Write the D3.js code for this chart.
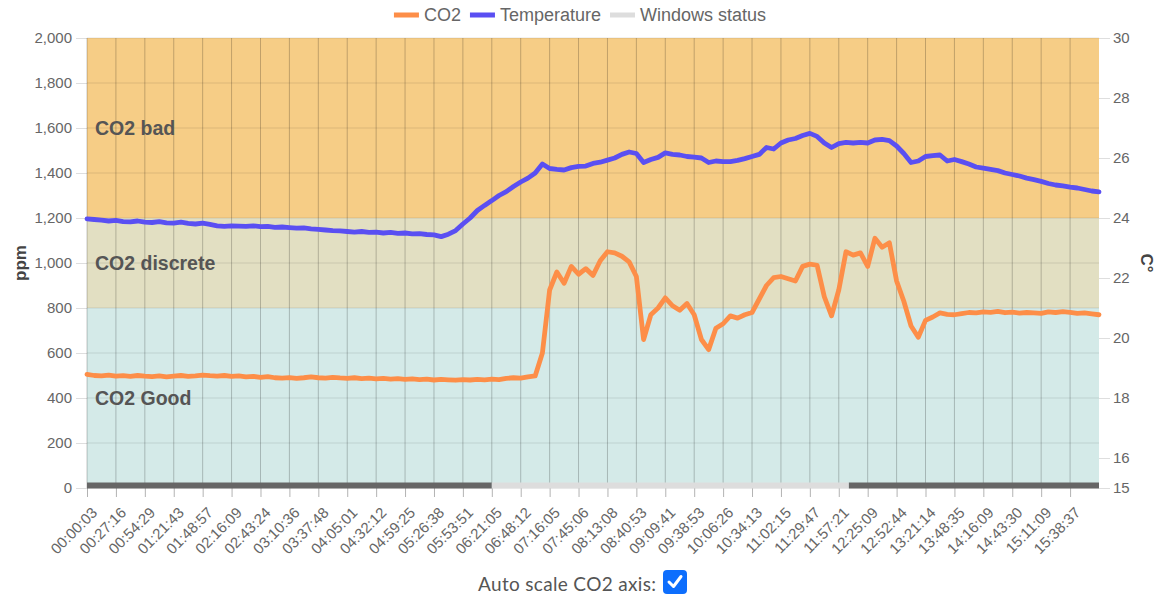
<!DOCTYPE html>
<html>
<head>
<meta charset="utf-8">
<script src="https://d3js.org/d3.v7.min.js"></script>
<style>
  body { margin: 0; background: #fff; }
  svg text { font-family: "Liberation Sans", Arial, sans-serif; }
</style>
</head>
<body>
<div id="chart"></div>
<script>

//////////
// DATA //
//////////

// one label every 4th sample
var timeLabels = ["00:00:03","00:27:16","00:54:29","01:21:43","01:48:57","02:16:09","02:43:24",
  "03:10:36","03:37:48","04:05:01","04:32:12","04:59:25","05:26:38","05:53:51","06:21:05",
  "06:48:12","07:16:05","07:45:06","08:13:08","08:40:53","09:09:41","09:38:53","10:06:26",
  "10:34:13","11:02:15","11:29:47","11:57:21","12:25:09","12:52:44","13:21:14","13:48:35",
  "14:16:09","14:43:30","15:11:09","15:38:37"];

// CO2 in ppm, one value per sample
var co2 = [505,500,498,502,497,499,496,500,497,495,498,494,497,500,496,498,502,499,497,500,
  496,498,494,496,492,495,490,488,491,487,490,494,490,488,492,489,487,490,486,488,
  485,487,484,486,483,485,482,484,480,483,481,479,482,480,483,481,484,482,487,490,
  488,494,498,600,880,960,910,985,950,975,945,1010,1050,1045,1030,1005,940,660,770,800,
  845,810,790,820,770,660,615,710,730,765,755,770,780,840,900,935,940,930,920,985,
  995,990,850,765,880,1050,1035,1045,985,1110,1070,1090,920,830,720,670,745,760,778,772,
  770,775,780,778,783,781,785,779,782,777,780,778,776,783,780,784,781,776,778,774,770];

// temperature in °C, one value per sample
var temperature = [23.97,23.95,23.93,23.9,23.92,23.88,23.87,23.9,23.86,23.85,23.88,23.84,23.83,23.86,
  23.82,23.8,23.83,23.79,23.74,23.72,23.74,23.73,23.72,23.74,23.71,23.72,23.69,23.7,23.68,23.66,
  23.67,23.64,23.62,23.6,23.58,23.57,23.55,23.53,23.55,23.52,23.53,23.5,23.52,23.49,23.5,23.47,
  23.48,23.45,23.44,23.38,23.46,23.58,23.8,24.0,24.25,24.42,24.58,24.75,24.88,25.05,25.2,25.33,
  25.5,25.8,25.65,25.62,25.6,25.68,25.72,25.73,25.82,25.86,25.93,26.0,26.12,26.2,26.15,25.85,
  25.95,26.02,26.17,26.12,26.1,26.05,26.03,26.0,25.85,25.9,25.88,25.88,25.92,25.98,26.05,26.12,
  26.35,26.3,26.5,26.6,26.65,26.75,26.82,26.72,26.5,26.35,26.48,26.52,26.5,26.52,26.5,26.6,
  26.62,26.58,26.4,26.15,25.85,25.9,26.05,26.08,26.1,25.9,25.95,25.88,25.8,25.7,25.66,25.62,
  25.58,25.5,25.45,25.4,25.33,25.28,25.22,25.15,25.1,25.07,25.03,25.0,24.95,24.9,24.87];

// windows status, in sample units: 0 = closed, 1 = open
var windowStart = [0, 56, 105.4];
var windowEnd = [56, 105.4, 140];
var windowOpen = [0, 1, 0];

// CO2 zones
var zoneNames = ["CO2 bad", "CO2 discrete", "CO2 Good"];
var zoneFrom = [1200, 800, 0];
var zoneTo = [2000, 1200, 800];
var zoneLabelAt = [1600, 1000, 400];

var co2Ticks = d3.range(0, 2001, 200);
var tempTicks = [15, 16, 18, 20, 22, 24, 26, 28, 30];

var zoneColors = ["#f6cd86", "#e2dfc2", "#d4eae8"];
var co2Color = "#fd8e48";
var tempColor = "#5a4ff2";

// set the dimensions and margins of the graph
var margin = {top: 38, right: 69, bottom: 114, left: 87},
    width = 1168 - margin.left - margin.right,
    height = 602 - margin.top - margin.bottom;

var svgRoot = d3.select("#chart")
  .append("svg")
    .attr("width", 1168)
    .attr("height", 602);

var svg = svgRoot.append("g")
    .attr("transform", "translate(" + margin.left + "," + margin.top + ")");

//////////
// SCALES //
//////////

var x = d3.scaleLinear()
  .domain([0, co2.length - 1])
  .range([0, width]);

var y = d3.scaleLinear()
  .domain([0, 2000])
  .range([height, 0]);

var yT = d3.scaleLinear()
  .domain([15, 30])
  .range([height, 0]);

//////////
// BACKGROUND ZONES //
//////////

svg.selectAll("zone")
  .data(zoneNames)
  .enter()
  .append("rect")
    .attr("x", 0)
    .attr("width", width)
    .attr("y", function(d, i) { return y(zoneTo[i]); })
    .attr("height", function(d, i) { return y(zoneFrom[i]) - y(zoneTo[i]); })
    .style("fill", function(d, i) { return zoneColors[i]; });

// grid
svg.selectAll("hgrid")
  .data(co2Ticks)
  .enter()
  .append("line")
    .attr("x1", 0).attr("x2", width)
    .attr("y1", function(d) { return y(d); })
    .attr("y2", function(d) { return y(d); })
    .style("stroke", "rgba(0,0,0,0.1)");

var tickIdx = d3.range(0, timeLabels.length).map(function(i) { return i * 4; });

svg.selectAll("vgrid")
  .data(tickIdx)
  .enter()
  .append("line")
    .attr("x1", function(d) { return x(d); })
    .attr("x2", function(d) { return x(d); })
    .attr("y1", 0).attr("y2", height)
    .style("stroke", "rgba(0,0,0,0.22)");

// zone labels
svg.selectAll("zonelabel")
  .data(zoneNames)
  .enter()
  .append("text")
    .attr("x", 8)
    .attr("y", function(d, i) { return y(zoneLabelAt[i]); })
    .attr("dy", "0.35em")
    .style("font-size", "19.5px")
    .style("font-weight", "bold")
    .style("fill", "#555")
    .text(function(d) { return d; });

//////////
// AXIS //
//////////

var yAxis = svg.append("g")
  .call(d3.axisLeft(y).tickValues(co2Ticks).tickFormat(d3.format(",")).tickSize(11).tickPadding(4));
yAxis.select(".domain").remove();
yAxis.selectAll("line").style("stroke", "rgba(0,0,0,0.13)");
yAxis.selectAll("text").style("font-size", "15px").style("fill", "#666");

var yAxisR = svg.append("g")
  .attr("transform", "translate(" + width + ",0)")
  .call(d3.axisRight(yT).tickValues(tempTicks).tickSize(11).tickPadding(3));
yAxisR.select(".domain").remove();
yAxisR.selectAll("line").style("stroke", "rgba(0,0,0,0.13)");
yAxisR.selectAll("text").style("font-size", "15px").style("fill", "#666");

var xAxis = svg.append("g")
  .attr("transform", "translate(0," + height + ")")
  .call(d3.axisBottom(x).tickValues(tickIdx).tickSize(9)
    .tickFormat(function(d) { return timeLabels[d / 4]; }));
xAxis.select(".domain").remove();
xAxis.selectAll("line").style("stroke", "rgba(0,0,0,0.3)");
xAxis.selectAll("text")
  .attr("y", 0)
  .attr("dy", "0.35em")
  .attr("transform", "translate(7,22) rotate(-45)")
  .style("text-anchor", "end")
  .style("font-size", "15px")
  .style("fill", "#666");

// axis titles
svg.append("text")
  .attr("transform", "translate(" + (-67) + "," + y(1000) + ") rotate(-90)")
  .attr("text-anchor", "middle")
  .attr("dy", "0.35em")
  .style("font-size", "17px")
  .style("font-weight", "bold")
  .style("fill", "#444")
  .text("ppm");

svg.append("text")
  .attr("transform", "translate(" + (width + 48) + "," + y(1000) + ") rotate(90)")
  .attr("text-anchor", "middle")
  .attr("dy", "0.35em")
  .style("font-size", "17px")
  .style("font-weight", "bold")
  .style("fill", "#444")
  .text("C°");

//////////
// WINDOWS STATUS //
//////////

svg.selectAll("winbar")
  .data(windowOpen)
  .enter()
  .append("rect")
    .attr("x", function(d, i) { return x(windowStart[i]); })
    .attr("width", function(d, i) { return x(windowEnd[i]) - x(windowStart[i]); })
    .attr("y", y(0) - 5.5)
    .attr("height", 6)
    .style("fill", function(d) { return d ? "#dddddd" : "#666666"; });

//////////
// LINES //
//////////

var co2Line = d3.line()
  .x(function(d, i) { return x(i); })
  .y(function(d) { return y(d); });

var tempLine = d3.line()
  .x(function(d, i) { return x(i); })
  .y(function(d) { return yT(d); });

svg.append("path")
  .datum(co2)
  .attr("d", co2Line)
  .style("fill", "none")
  .style("stroke", co2Color)
  .style("stroke-width", 4.8)
  .style("stroke-linejoin", "round")
  .style("stroke-linecap", "round");

svg.append("path")
  .datum(temperature)
  .attr("d", tempLine)
  .style("fill", "none")
  .style("stroke", tempColor)
  .style("stroke-width", 4.8)
  .style("stroke-linejoin", "round")
  .style("stroke-linecap", "round");

//////////
// LEGEND //
//////////

var legendNames = ["CO2", "Temperature", "Windows status"];
var legendColors = [co2Color, tempColor, "#dddddd"];

var legend = svgRoot.append("g");
var lx = 0;
legendNames.forEach(function(name, i) {
  legend.append("rect")
    .attr("x", lx).attr("y", 12.5)
    .attr("width", 25).attr("height", 5)
    .style("fill", legendColors[i]);
  var t = legend.append("text")
    .attr("x", lx + 30).attr("y", 15)
    .attr("dy", "0.35em")
    .style("font-size", "18px")
    .style("fill", "#666")
    .text(name);
  lx += 30 + t.node().getComputedTextLength() + 9;
});
legend.attr("transform", "translate(" + (580 - (lx - 9) / 2) + ",0)");

//////////
// CHECKBOX //
//////////

var cb = svgRoot.append("g");
cb.append("text")
  .attr("x", 656)
  .attr("y", 591)
  .attr("text-anchor", "end")
  .attr("textLength", 178)
  .style("font-family", "Lato, 'Open Sans', sans-serif")
  .style("font-size", "19px")
  .style("fill", "#555")
  .text("Auto scale CO2 axis:");
cb.append("rect")
  .attr("x", 663).attr("y", 570)
  .attr("width", 24).attr("height", 24)
  .attr("rx", 4)
  .style("fill", "#0d6efd");
cb.append("path")
  .attr("d", "M669,582 L673.5,586.5 L681,576.5")
  .style("fill", "none")
  .style("stroke", "#fff")
  .style("stroke-width", 3)
  .style("stroke-linecap", "round")
  .style("stroke-linejoin", "round");

</script>
</body>
</html>
